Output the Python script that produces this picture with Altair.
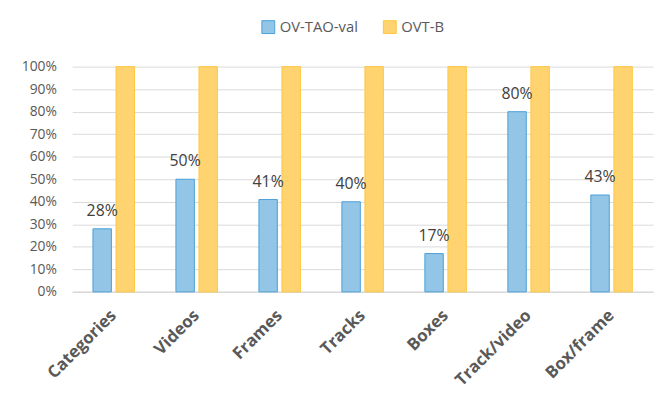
import altair as alt
import pandas as pd

categories = ["Categories", "Videos", "Frames", "Tracks", "Boxes", "Track/video", "Box/frame"]
ov_tao_val = [28, 50, 41, 40, 17, 80, 43]
ovt_b = [100, 100, 100, 100, 100, 100, 100]
series = ["OV-TAO-val", "OVT-B"]

rows = []
for c, a, b in zip(categories, ov_tao_val, ovt_b):
    rows.append({"cat": c, "series": series[0], "v": a / 100})
    rows.append({"cat": c, "series": series[1], "v": b / 100})
df = pd.DataFrame(rows)
lab = pd.DataFrame({"cat": categories, "series": series[0], "v": [v / 100 for v in ov_tao_val],
                    "t": [f"{v}%" for v in ov_tao_val]})

FONT = "Open Sans"
GREY = "#595959"

x = alt.X("cat:N", sort=categories, title=None,
          scale=alt.Scale(paddingInner=0.5, paddingOuter=0.25),
          axis=alt.Axis(labelAngle=-45, labelFontWeight="bold", labelFontSize=17,
                        labelColor=GREY, labelFont=FONT, ticks=False, domain=True,
                        domainColor="#d9d9d9", domainWidth=1.5, labelPadding=21,
                        labelAlign="right", labelBaseline="middle", labelLimit=200))
xo = alt.XOffset("series:N", sort=series, scale=alt.Scale(paddingInner=0.2))
y = alt.Y("v:Q", title=None,
          scale=alt.Scale(domain=[0, 1], nice=False),
          axis=alt.Axis(format=".0%", values=[i / 10 for i in range(11)], labelFontSize=14,
                        labelColor=GREY, labelFont=FONT, ticks=False, domain=False,
                        grid=True, gridColor="#d9d9d9", gridWidth=1, labelPadding=16,
                        labelOverlap=False, minExtent=65, maxExtent=65))

bars = alt.Chart(df).mark_bar(strokeWidth=1).encode(
    x=x, xOffset=xo, y=y,
    color=alt.Color("series:N", sort=series,
                    scale=alt.Scale(domain=series, range=["#93c5e6", "#ffd470"]),
                    legend=alt.Legend(title=None, orient="none", direction="horizontal",
                                      legendX=191, legendY=-48, labelFontSize=15,
                                      labelColor=GREY, labelFont=FONT, symbolType="square",
                                      symbolSize=170, symbolStrokeWidth=1,
                                      columnPadding=22, labelOffset=4)),
    stroke=alt.Stroke("series:N", sort=series,
                      scale=alt.Scale(domain=series, range=["#4a9fd8", "#ffc53d"]),
                      legend=None),
)

text = alt.Chart(lab).mark_text(dy=-18, fontSize=16, color="#404040", font=FONT).encode(
    x=x, xOffset=xo, y=y, text="t:N")

chart = alt.layer(bars, text).properties(
    width=588, height=228,
    padding={"left": 0, "top": 9, "right": 5, "bottom": 0},
).configure_view(stroke=None)

chart.save("out.html", embed_options={"renderer": "svg", "actions": False})
